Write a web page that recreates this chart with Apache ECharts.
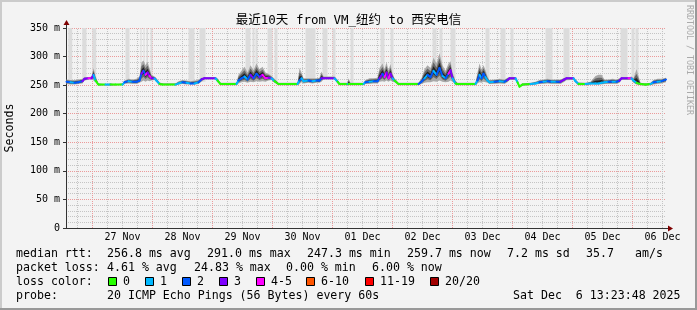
<!DOCTYPE html>
<html><head><meta charset="utf-8">
<script src="https://cdn.jsdelivr.net/npm/echarts@6/dist/echarts.min.js"></script>
<style>html,body{margin:0;padding:0;background:#f3f3f3}#c{width:697px;height:310px}</style>
</head><body><div id="c"></div>
<script>
// ---------- DATA (hours are counted from 27 Nov 00:00) ----------
const titleText = '最近10天 from VM_纽约 to 西安电信';
const xMin = -10.6, xMax = 229.4;
const dayLabelHours = [12, 36, 60, 84, 108, 132, 156, 180, 204, 228];
const dayLabels = ['27 Nov', '28 Nov', '29 Nov', '30 Nov', '01 Dec', '02 Dec', '03 Dec', '04 Dec', '05 Dec', '06 Dec'];
const yTickValues = [0, 50, 100, 150, 200, 250, 300, 350];

const hours = [-10.4,-8.8,-7.2,-5.6,-4.0,-3.2,-1.6,-0.4,0.4,1.2,2.4,5.2,7.2,9.2,12.0,12.8,14.4,16.0,17.6,18.8,
  19.6,20.4,21.2,22.0,22.8,23.6,24.8,25.6,26.8,28.0,33.2,34.4,36.0,37.6,39.2,40.8,42.4,43.6,44.8,49.2,
  50.0,51.2,57.6,58.4,59.6,60.8,62.0,63.2,64.4,65.6,66.8,68.0,69.2,70.4,71.6,72.8,74.4,82.0,82.8,83.6,
  84.4,86.4,88.0,89.6,90.8,91.6,92.4,96.8,98.0,98.8,102.0,102.4,103.2,108.4,109.2,110.8,112.4,114.0,114.8,116.0,
  116.8,117.6,118.4,119.2,120.0,120.8,122.4,130.4,131.6,132.8,134.0,135.2,136.4,137.6,138.8,140.0,141.2,142.4,143.2,144.0,
  145.2,146.0,153.2,154.0,154.8,155.6,156.4,157.2,158.0,158.8,160.8,162.8,164.8,166.0,166.8,169.2,170.0,170.8,172.0,175.2,
  177.2,178.8,180.4,182.0,183.6,185.6,187.2,188.8,189.6,192.4,193.2,194.4,197.2,199.2,201.2,202.4,203.6,204.8,206.4,208.0,
  209.6,210.8,211.6,214.4,215.6,216.4,217.6,219.2,221.2,223.2,224.4,226.0,227.6,229.4];
const median = [256,255,254,255,257,261,262,262,268,258,251,251,251,251,251,255,257,256,256,258,
  270,275,268,272,266,262,262,258,252,251,251,253,255,254,253,253,255,260,262,262,
  258,252,252,258,262,265,260,268,262,270,264,268,262,263,262,257,252,252,258,262,
  257,258,257,258,258,262,262,262,256,252,252,252,252,252,255,256,257,257,262,270,
  264,272,262,270,262,258,252,252,256,262,268,264,275,268,280,266,262,270,276,262,
  253,252,252,258,268,262,270,264,258,255,256,257,256,259,262,262,255,247.3,251,252,
  253,255,256,257,256,256,256,260,262,262,257,252,252,253,253,253,254,255,256,256,
  256,258,262,262,262,258,254,252,251,252,255,256,257,259.7];
const loss = [1,2,1,2,2,3,3,4,3,1,0,0,1,0,0,1,2,1,2,2,
  2,3,2,4,3,4,3,1,1,0,0,1,1,2,1,2,1,2,3,3,
  1,0,0,1,2,2,1,2,3,2,2,3,4,4,3,1,0,0,1,2,
  1,1,2,1,2,2,3,3,1,0,0,1,0,0,1,2,1,2,2,3,
  2,4,3,4,3,1,0,0,2,2,1,2,2,1,2,2,1,2,4,3,
  1,0,0,1,2,1,2,2,1,1,1,2,1,2,3,3,1,0,0,0,
  1,1,2,1,2,1,2,3,3,3,1,1,0,1,1,1,1,1,1,2,
  1,2,3,3,4,1,1,0,0,0,1,2,1,2];
const smokeMin = [252,251,251,252,253,258,260,260,258,255,249,250,249,250,250,252,253,252,252,254,
  256,258,256,258,257,258,259,255,250,250,250,251,252,251,251,251,252,256,260,260,
  255,250,250,253,255,256,254,256,255,257,256,257,256,258,259,254,250,250,252,255,
  253,254,253,254,254,256,260,260,253,250,250,250,250,250,252,252,253,253,256,257,
  256,258,256,258,256,255,250,250,252,254,255,255,257,256,258,256,255,256,258,256,
  251,250,250,253,255,254,256,255,254,252,252,253,252,255,259,259,252,246,249,250,
  251,252,252,253,252,252,252,256,259,259,254,250,250,251,251,251,251,252,252,252,
  252,254,259,259,259,254,251,250,249,250,251,252,253,255];
const smokeMax = [260,259,259,260,261,264,264,265,280,266,253,252,253,252,253,258,261,260,261,265,
  290,293,285,291,280,268,265,262,255,253,253,257,259,258,257,258,259,263,264,264,
  262,254,254,268,275,282,272,285,276,288,278,282,272,270,266,261,254,254,280,272,
  262,262,262,262,263,274,265,265,260,254,254,262,254,254,259,262,262,263,280,288,
  278,290,276,287,270,262,254,254,262,278,285,280,298,288,306,285,275,288,292,272,
  258,254,254,272,288,278,285,276,265,259,260,261,260,263,264,264,258,250,253,254,
  256,259,260,261,260,260,260,263,264,264,260,255,254,256,266,268,268,260,260,261,
  260,262,264,264,265,262,278,254,253,254,259,261,261,263];
// light-gray full-height smoke: [start hour, end hour, base value]
const tallSmoke = [[-9.7,-8.1,256],[-4.1,-2.4,258],[-0.1,1.5,262],[13.2,14.8,256],[19.2,19.6,265],[20.4,20.8,265],
  [21.6,22.2,265],[23.2,24.0,262],[38.4,40.8,253],[42.8,45.2,256],[61.2,63.2,262],[64.0,64.8,262],[65.2,66.0,264],
  [70.0,72.0,262],[72.8,74.0,256],[85.2,89.2,258],[92.0,94.0,262],[96.0,97.2,262],[103.2,104.4,252],[115.2,116.8,262],
  [119.2,120.4,262],[136.0,137.6,266],[138.8,140.0,266],[143.2,145.2,262],[157.2,158.8,262],[163.2,165.2,256],
  [167.2,168.4,260],[181.2,184.0,256],[188.4,190.8,258],[211.2,214.0,260],[215.6,216.8,262],[217.2,218.4,258]];

const lossClasses = ['0', '1', '2', '3', '4-5', '6-10', '11-19', '20/20'];
const lossColors = ['#26ff00', '#00b8ff', '#0059ff', '#7e00ff', '#ff00ff', '#ff5500', '#ff0000', '#a10000'];

const rttStats = ['median rtt:', '256.8 ms avg', '291.0 ms max', '247.3 ms min', '259.7 ms now', '7.2 ms sd', '35.7', 'am/s'];
const lossStats = ['packet loss:', '4.61 % avg', '24.83 % max', '0.00 % min', '6.00 % now'];
const probeText = ['probe:', '20 ICMP Echo Pings (56 Bytes) every 60s', 'Sat Dec  6 13:23:48 2025'];

// ---------- LAYOUT ----------
const rttX = [16, 107, 207, 307, 407, 507, 586, 635];
const lossX = [16, 107, 194, 286, 372];
const boxX = [108, 145, 182, 219, 256, 306, 365, 430];
const probeX = [16, 107, 513];
const rowY = [254, 268, 282, 296];
const MONO = "'DejaVu Sans Mono', monospace";

function lossColor(n) {
  if (n <= 0) return lossColors[0];
  if (n === 1) return lossColors[1];
  if (n === 2) return lossColors[2];
  if (n === 3) return lossColors[3];
  if (n <= 5) return lossColors[4];
  if (n <= 10) return lossColors[5];
  if (n <= 19) return lossColors[6];
  return lossColors[7];
}

const gridHours = [];
for (let h = -6; h <= 228; h += 6) gridHours.push(h);

const segData = [];
for (let i = 0; i < hours.length - 1; i++) segData.push([hours[i], median[i], hours[i + 1], median[i + 1], loss[i + 1]]);

const chart = echarts.init(document.getElementById('c'));
chart.setOption({
  animation: false,
  backgroundColor: '#f3f3f3',
  grid: { left: 66, top: 28, width: 600, height: 200 },
  xAxis: {
    type: 'value', min: xMin, max: xMax,
    axisLine: { show: true, onZero: false, lineStyle: { color: '#333', width: 1 } },
    axisTick: { show: false },
    splitLine: { show: false },
    axisLabel: { customValues: dayLabelHours, margin: 4, fontFamily: MONO, fontSize: 10, color: '#000',
      formatter: v => { const i = dayLabelHours.indexOf(Math.round(v)); return i >= 0 ? dayLabels[i] : ''; } }
  },
  yAxis: {
    type: 'value', min: 0, max: 350, interval: 50,
    axisLine: { show: true, onZero: false, lineStyle: { color: '#333', width: 1 } },
    axisTick: { show: true, length: 3, lineStyle: { color: '#333' } },
    minorTick: { show: false, splitNumber: 5 },
    splitLine: { show: true, lineStyle: { color: '#eb9a9a', type: [1, 1], width: 1 } },
    minorSplitLine: { show: true, lineStyle: { color: '#c4c4c4', type: [1, 1], width: 1 } },
    axisLabel: { margin: 6, fontFamily: MONO, fontSize: 10, color: '#000',
      formatter: v => (yTickValues.indexOf(v) >= 0 ? (v === 0 ? '0' : v + ' m') : '') }
  },
  series: [
    { type: 'custom', name: 'vgrid', z: 1, silent: true, data: [[0, 100]],
      renderItem: (p, api) => {
        const children = gridHours.map(h => {
          const a = api.coord([h, 0]), b = api.coord([h, 350]);
          const x = Math.floor(a[0]) + 0.5;
          return { type: 'line', shape: { x1: x, y1: a[1], x2: x, y2: b[1] },
            style: { stroke: h % 24 === 0 ? '#eb9a9a' : '#c4c4c4', lineDash: [1, 1], lineWidth: 1 } };
        });
        return { type: 'group', children };
      } },
    { type: 'custom', name: 'tall', z: 2, silent: true, data: tallSmoke,
      renderItem: (p, api) => {
        const a = api.coord([api.value(0), api.value(2)]), b = api.coord([api.value(1), 350]);
        return { type: 'rect', shape: { x: a[0], y: b[1], width: Math.max(1, b[0] - a[0]), height: a[1] - b[1] },
          style: { fill: '#dcdcdc' } };
      } },
    { type: 'custom', name: 'smoke', z: 3, silent: true, data: [[hours[0], median[0]]],
      renderItem: (p, api) => {
        const bands = [[1, 1, '#a8a8a8'], [0.65, 0.6, '#666666'], [0.35, 0.3, '#222222']];
        const children = bands.map(([fu, fd, col]) => {
          const top = [], bot = [];
          for (let i = 0; i < hours.length; i++) {
            top.push(api.coord([hours[i], median[i] + (smokeMax[i] - median[i]) * fu]));
            bot.push(api.coord([hours[i], median[i] - (median[i] - smokeMin[i]) * fd]));
          }
          return { type: 'polygon', shape: { points: top.concat(bot.reverse()) }, style: { fill: col } };
        });
        return { type: 'group', children };
      } },
    { type: 'custom', name: 'median', z: 4, silent: true, data: segData,
      renderItem: (p, api) => {
        const a = api.coord([api.value(0), api.value(1)]), b = api.coord([api.value(2), api.value(3)]);
        return { type: 'line', shape: { x1: a[0], y1: a[1], x2: b[0], y2: b[1] },
          style: { stroke: lossColor(api.value(4)), lineWidth: 2, lineCap: 'round' } };
      } }
  ]
});

// ---------- decorations / legend ----------
const o = chart.convertToPixel({ gridIndex: 0 }, [xMin, 0]);
const e = chart.convertToPixel({ gridIndex: 0 }, [xMax, 350]);
const g = [];
g.push({ type: 'rect', shape: { x: 0, y: 0, width: 697, height: 2 }, style: { fill: '#cbcbcb' } });
g.push({ type: 'rect', shape: { x: 0, y: 0, width: 2, height: 310 }, style: { fill: '#cbcbcb' } });
g.push({ type: 'rect', shape: { x: 0, y: 308, width: 697, height: 2 }, style: { fill: '#999' } });
g.push({ type: 'rect', shape: { x: 695, y: 0, width: 2, height: 310 }, style: { fill: '#999' } });
const ax = Math.round(o[0]) + 0.5, ay = Math.round(o[1]) + 0.5;
g.push({ type: 'line', shape: { x1: ax, y1: e[1], x2: ax, y2: e[1] - 4 }, style: { stroke: '#333' } });
g.push({ type: 'line', shape: { x1: e[0], y1: ay, x2: e[0] + 4, y2: ay }, style: { stroke: '#333' } });
g.push({ type: 'polygon', shape: { points: [[ax - 3, e[1] - 3], [ax + 3, e[1] - 3], [ax, e[1] - 8]] }, style: { fill: '#7f0000' } });
g.push({ type: 'polygon', shape: { points: [[e[0] + 2, ay - 3], [e[0] + 2, ay + 3], [e[0] + 7, ay]] }, style: { fill: '#7f0000' } });
function txt(s, x, y, extra) {
  return Object.assign({ type: 'text', x: x, y: y,
    style: { text: s, fill: '#000', font: '11.6px ' + MONO, textAlign: 'left', textVerticalAlign: 'middle' } }, extra || {});
}
g.push({ type: 'text', x: 348.5, y: 21, z: 100,
  style: { text: titleText, fill: '#000', font: "12.5px 'DejaVu Sans Mono', 'Noto Sans CJK SC', monospace",
    textAlign: 'center', textVerticalAlign: 'middle' } });
g.push({ type: 'text', x: 10, y: 128, rotation: Math.PI / 2,
  style: { text: 'Seconds', fill: '#000', font: '11.6px ' + MONO, textAlign: 'center', textVerticalAlign: 'middle' } });
g.push({ type: 'text', x: 689, y: 60, rotation: -Math.PI / 2,
  style: { text: 'RRDTOOL / TOBI OETIKER', fill: '#aaa', font: '8.3px ' + MONO, textAlign: 'center', textVerticalAlign: 'middle' } });
rttStats.forEach((s, i) => g.push(txt(s, rttX[i], rowY[0])));
lossStats.forEach((s, i) => g.push(txt(s, lossX[i], rowY[1])));
g.push(txt('loss color:', 16, rowY[2]));
lossClasses.forEach((s, i) => {
  g.push({ type: 'rect', shape: { x: boxX[i] + 0.5, y: rowY[2] - 4.5, width: 8, height: 8 },
    style: { fill: lossColors[i], stroke: '#000', lineWidth: 1 } });
  g.push(txt(s, boxX[i] + 15, rowY[2]));
});
probeText.forEach((s, i) => g.push(txt(s, probeX[i], rowY[3])));
chart.setOption({ graphic: g });
</script></body></html>
